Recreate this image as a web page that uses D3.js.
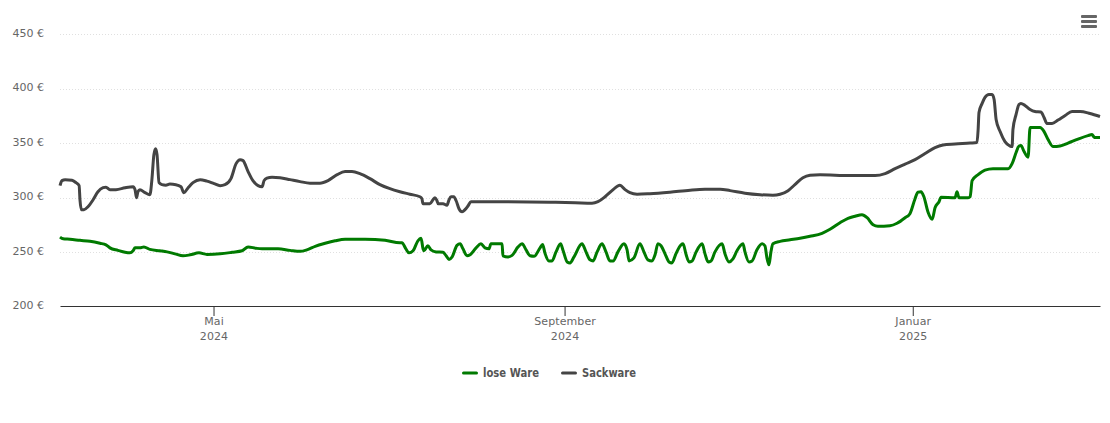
<!DOCTYPE html>
<html>
<head>
<meta charset="utf-8">
<script src="https://cdn.jsdelivr.net/npm/d3@7"></script>
<style>
  html, body { margin: 0; padding: 0; background: #fff; }
  svg { display: block; font-family: "DejaVu Sans", sans-serif; }
</style>
</head>
<body>
<div id="chart"></div>
<script>
// series are [day offset from firstDay, price in euro]
var firstDay = new Date(Date.UTC(2024, 2, 8, 5));
var lastDayOffset = 364.4;

var looseLabel = 'lose Ware';
var looseDays = [0,1.1,3.5,7,10.5,14,16.1,17.5,20.3,22.8,24.5,25.6,26.3,28,29.4,31.5,35,37.5,40.3,43.1,45.6,48.7,51.5,56.1,60.3,63.8,65.9,68.7,70.8,76.4,80.6,84.1,86.5,89.4,92.9,96.4,99.9,106.9,113.9,119.1,119.8,121.2,122.3,123.7,125.4,126.5,127.2,127.5,128.9,130,131.8,134.2,135.3,136.3,137.4,139.1,140.2,141.2,142.6,143.7,145.8,147.5,148.9,150.3,151,154.9,155.2,157,158.4,160.5,161.9,163.3,164.7,166.1,168.2,169.1,169.9,171.3,172.4,173.8,175.4,176.3,177.7,178.7,180.1,182.9,184.3,185.7,186.8,188.2,189.9,191.3,192.7,193.8,195.5,197.6,198.7,199.4,201.1,203.2,204.6,206,207.4,208.5,209.5,210.6,212,213.4,214.4,215.8,217.6,218.3,219.4,220.4,221.5,222.9,225,226,227.1,228.1,229.5,232,233,234.4,235.8,237.2,239.3,240,241.4,242.5,244.2,246,247,247.7,248.4,249.1,249.8,252.3,255.8,259.3,262.8,267,269.8,273.3,276.1,278.6,281,282.8,284.9,286.6,290.8,293.3,296.1,297.8,299.6,300.6,301.7,302.7,304.1,305.6,306.6,308,308.7,313.6,314.3,315,318.2,318.9,319.6,321.7,324.1,326.9,332.2,333.6,335,336,336.7,337.8,339.2,339.9,343.4,344.8,346.2,348,350.4,353.2,356.7,360.2,361.6,362.3,362.7,364.4];
var loosePrices = [263.7,262.1,261.7,260.7,259.8,258,256.6,253.8,251.5,249.7,249.2,251.1,253.8,253.8,254.7,252.4,251.1,250.1,248.3,246.5,247.4,249.2,247.8,248.3,249.7,251.1,254.7,253.4,252.9,252.9,251.5,250.6,252,255.2,258,260.3,261.7,261.7,260.7,258.4,258.4,252.9,249.2,251.1,260.3,262.6,252.9,251.1,255.7,252,250.1,249.7,246.5,243.2,245.5,256.1,257.5,252.9,246.5,247.4,253.8,257.5,253.8,252.9,257.5,257.5,246.5,245.5,246.9,254.7,257.5,252,246.5,246,253.8,257,249.2,241.8,241.8,250.1,257.5,251.1,240.9,240,245.5,257.5,250.1,242.8,241.8,250.1,257.5,250.1,241.8,241.8,250.1,257.5,252,241.8,244.6,257.5,250.1,242.8,241.8,247.4,257.5,255.7,248.3,240.9,240,248.3,256.6,257.5,247.4,240.9,241.8,250.1,257.5,248.3,240.9,241.8,250.1,257.5,248.3,240.9,243.7,251.1,257.5,250.1,240.9,241.8,252,257.5,255.7,244.6,238.2,250.1,257.5,259.8,261.2,262.6,264.4,267.2,270.9,276.9,281,282.9,284.2,281.5,275,273.6,274.1,276.4,281.5,285.2,299,305,305.4,300.8,287,280.1,290.7,296.2,300.4,299.9,305.4,299.9,299.9,300.8,315.6,321.1,325.3,326.6,326.6,331.2,341.4,347.4,347.8,342.3,337.2,364.4,364.4,360.7,353.4,346.9,347.4,350.1,353.8,357,357.9,355.7,355.2,355.2];

var sackLabel = 'Sackware';
var sackDays = [0,0.7,1.8,4.2,5.6,6.7,7,7.5,8.4,9.8,11.6,13.3,15.1,16.1,17.5,19.6,22.8,25.6,26.3,26.8,27.3,28,29.8,31.5,32.2,32.9,33.5,34,34.7,35.7,37.1,38.5,40.6,42.4,43.4,44.9,46.6,49.1,51.5,54,56.1,57.8,59.9,61.7,63.1,64.1,65.9,67.6,69.4,70.8,71.5,72.5,74.3,77.1,80.6,84.1,87.6,91.1,93.9,97.1,99.9,102.3,105.1,108.6,112.1,115.6,119.1,122.6,126.1,126.8,127.2,129.6,130.7,131.4,132.1,132.5,134.2,135.6,136.3,137,138,138.8,139.8,140.9,141.9,143,144,154.2,171.7,180.5,186.4,188.5,191,193.4,196.2,198,199.7,202.2,206.7,213.7,220.8,226,231.3,234.8,240,245.3,249.8,252.3,255.1,257.5,260.3,262.8,266.3,276.8,285.6,289.1,292.6,296.1,299.6,303.1,306.6,309.4,313.6,318.9,321.3,321.7,322,323.1,324.1,325.5,326.6,327.3,328,329.4,331.1,332.9,333.6,333.9,335,336,336.7,338.1,339.9,341.6,343.7,344.8,345.8,347.6,349.7,352.2,354.6,357.4,360.9,364.4];
var sackPrices = [311,315.6,316.5,316,313.7,311,298,288.9,288.9,291.6,298,305.4,309.1,309.6,307.3,307.3,309.1,310,307.3,299.9,305.4,307.3,304.5,302.7,316.5,339.5,345,339.5,313.7,311.9,311.4,312.4,311.9,310,304.5,309.1,313.7,316.5,315.1,312.8,311,311.9,317.4,331.2,334.9,334,323.9,315.6,311,310,315.6,317.9,318.8,318.3,316.5,314.7,313.3,313.3,315.6,321.1,323.9,323.9,322,317.4,311.9,308.2,305.4,303.1,300.8,299,294.4,294.4,298,299.9,297.1,294.4,294.4,293,298,300.8,300.8,297.1,289.8,287,288.9,292.5,296.2,296.2,295.8,295.3,294.8,296.2,300.8,306.4,311.4,307.3,304.5,303.1,303.6,305,306.8,307.6,307.7,306.4,304.1,302.7,302.2,303.1,306.4,311.9,318.3,320.6,321.1,320.2,320.2,322,326.6,330.8,334.9,340.5,346,348.3,349.2,350.1,350.6,362.6,378.3,386.6,392.1,394.8,394.8,390.2,371.8,360.7,351.5,347.4,346.9,362.6,376.4,385.6,386.6,384.7,381,379.2,378.7,373.6,368.1,368.1,371.3,375.5,379.2,379.2,377.3,374.5];

var priceTicks = [200, 250, 300, 350, 400, 450];
var monthTicks = [new Date(Date.UTC(2024, 4, 1)), new Date(Date.UTC(2024, 8, 1)), new Date(Date.UTC(2025, 0, 1))];
var monthNames = ['Mai', 'September', 'Januar'];
var tickYears = ['2024', '2024', '2025'];

var green = '#007a00';
var grey = '#444444';
var labelColor = '#666666';

var width = 1110, height = 423;
var plotLeft = 60, plotRight = 1100, plotBottom = 306.4, plotTop = 34.4;

var x = d3.scaleUtc()
    .domain([firstDay, new Date(firstDay.getTime() + lastDayOffset * 864e5)])
    .range([plotLeft, plotRight]);
var y = d3.scaleLinear()
    .domain([200, 450])
    .range([plotBottom, plotTop]);

var svg = d3.select('#chart').append('svg')
    .attr('width', width)
    .attr('height', height);

// grid
svg.append('g').selectAll('line')
    .data(priceTicks.slice(1))
    .join('line')
    .attr('x1', plotLeft)
    .attr('x2', plotRight)
    .attr('y1', function(d) { return Math.round(y(d)) + 0.5; })
    .attr('y2', function(d) { return Math.round(y(d)) + 0.5; })
    .attr('stroke', '#e0e0e0')
    .attr('stroke-dasharray', '1,2');

// y axis labels only, no axis line
var yAxis = svg.append('g')
    .attr('transform', 'translate(' + plotLeft + ',0)')
    .call(d3.axisLeft(y).tickValues(priceTicks).tickSize(0).tickPadding(16)
        .tickFormat(function(d) { return d + ' €'; }));
yAxis.select('.domain').remove();
yAxis.selectAll('text')
    .attr('y', -1.5)
    .attr('fill', labelColor)
    .style('font-size', '11px')
    .style('font-family', '"DejaVu Sans", sans-serif');

// x axis with month and year on two rows
var xAxis = svg.append('g')
    .attr('transform', 'translate(0,' + Math.round(plotBottom) + ')')
    .call(d3.axisBottom(x).tickValues(monthTicks).tickSizeOuter(0).tickSizeInner(10).tickFormat(''));
xAxis.select('.domain').attr('stroke', '#333333');
xAxis.selectAll('.tick line').attr('stroke', '#333333');
xAxis.selectAll('.tick').each(function(d, i) {
    var label = d3.select(this).append('text')
        .attr('text-anchor', 'middle')
        .attr('fill', labelColor)
        .style('font-size', '11px')
        .style('letter-spacing', '0.1px')
        .style('font-family', '"DejaVu Sans", sans-serif');
    label.append('tspan').attr('x', 0).attr('y', 19).text(monthNames[i]);
    label.append('tspan').attr('x', 0).attr('y', 34).text(tickYears[i]);
});

// lines
var line = d3.line()
    .x(function(d) { return x(new Date(firstDay.getTime() + d[0] * 864e5)); })
    .y(function(d) { return y(d[1]); })
    .curve(d3.curveMonotoneX);

svg.append('path')
    .datum(d3.zip(looseDays, loosePrices))
    .attr('d', line)
    .attr('fill', 'none')
    .attr('stroke', green)
    .attr('stroke-width', 3)
    .attr('stroke-linejoin', 'round');

svg.append('path')
    .datum(d3.zip(sackDays, sackPrices))
    .attr('d', line)
    .attr('fill', 'none')
    .attr('stroke', grey)
    .attr('stroke-width', 3)
    .attr('stroke-linejoin', 'round');

// legend
var legendItems = [
    { name: looseLabel, color: green, at: 462, textWidth: 56 },
    { name: sackLabel, color: grey, at: 561, textWidth: 54 }
];
var legend = svg.append('g').selectAll('g')
    .data(legendItems)
    .join('g')
    .attr('transform', function(d) { return 'translate(' + d.at + ',373)'; });
legend.append('line')
    .attr('x1', 1.5)
    .attr('x2', 14.5)
    .attr('stroke', function(d) { return d.color; })
    .attr('stroke-width', 3)
    .attr('stroke-linecap', 'round');
legend.append('text')
    .attr('x', 21)
    .attr('y', 4)
    .attr('fill', '#555555')
    .attr('textLength', function(d) { return d.textWidth; })
    .attr('lengthAdjust', 'spacingAndGlyphs')
    .style('font-size', '12px')
    .style('font-weight', 'bold')
    .style('font-family', '"DejaVu Sans", sans-serif')
    .text(function(d) { return d.name; });

// menu button
svg.append('g').selectAll('rect')
    .data([0, 1, 2])
    .join('rect')
    .attr('x', 1081)
    .attr('y', function(d) { return 15 + d * 5; })
    .attr('width', 16)
    .attr('height', 3)
    .attr('rx', 1)
    .attr('fill', '#666666');
</script>
</body>
</html>
